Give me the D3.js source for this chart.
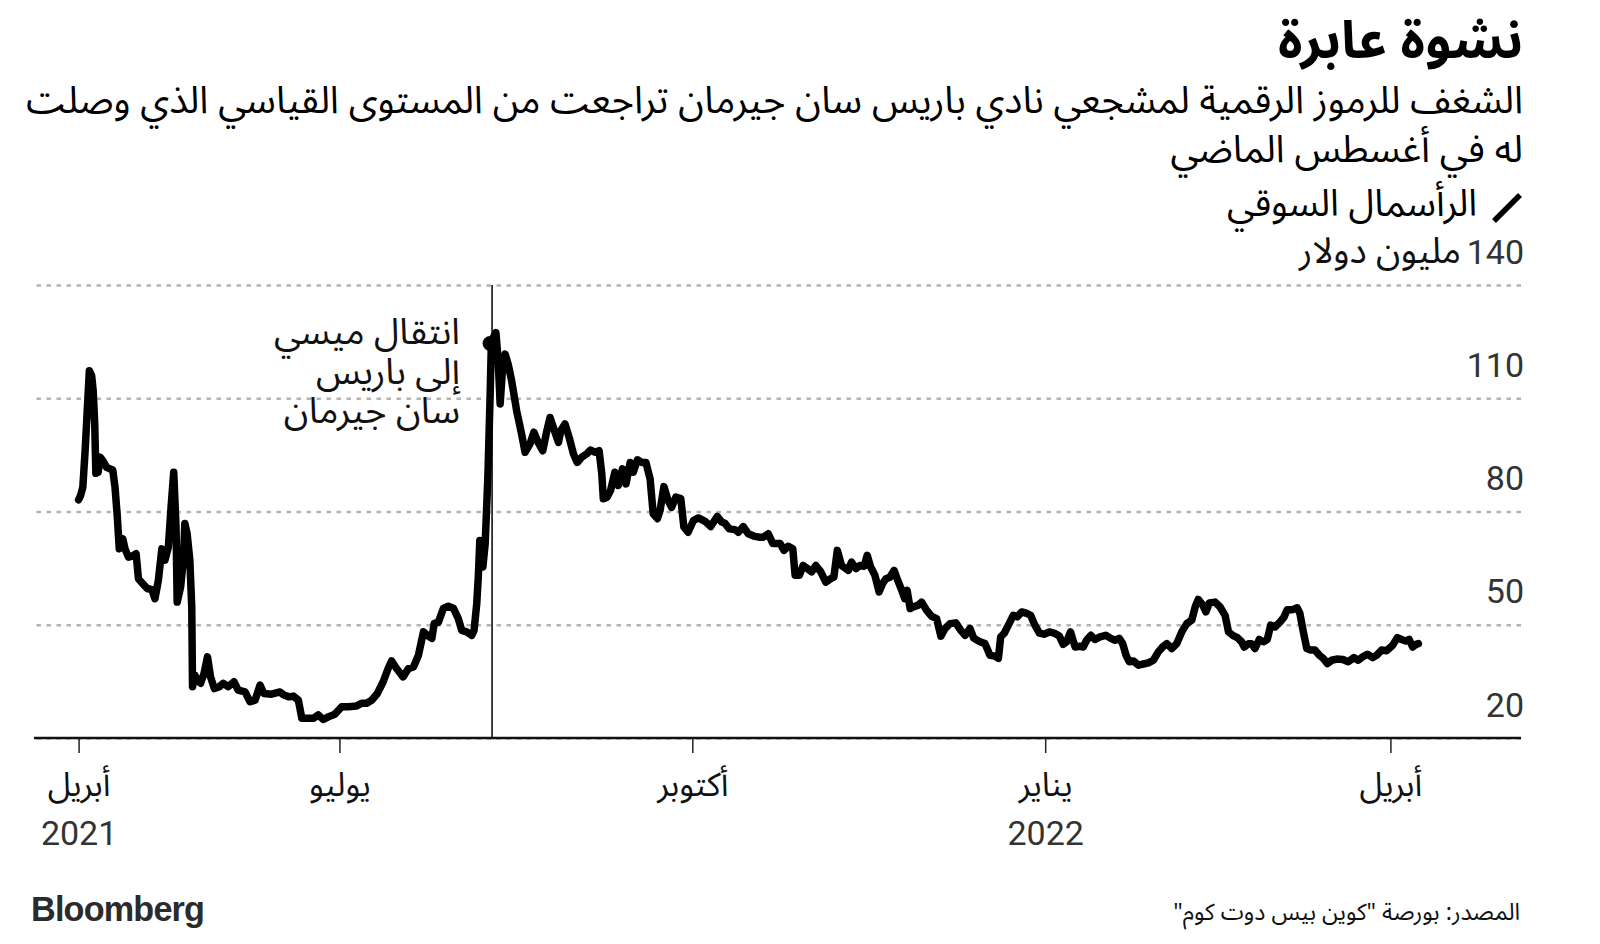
<!DOCTYPE html>
<html><head><meta charset="utf-8">
<script src="https://cdn.jsdelivr.net/npm/d3@7"></script>
<style>body{margin:0;background:#fff} svg{display:block}</style>
</head><body><svg id="c" width="1600" height="944"></svg>
<script>
// ---------- data ----------
const startDate = "2021-04-24";
const endTickDate = "2022-04-01";
// days after startDate
const dayOffsets = [0,0.5,1.1,1.7,2.3,2.8,3.4,3.8,4.2,4.5,5.1,5.6,6.3,7.3,8.9,9.5,10.1,10.6,11.5,12.1,13.0,13.8,15.0,15.6,16.7,17.9,19.1,19.9,20.8,21.7,22.5,23.4,24.1,24.8,25.4,25.7,26.6,27.3,27.7,28.3,29.0,29.5,29.7,30.3,30.9,31.8,32.7,33.6,34.4,35.4,36.7,37.7,39.0,40.5,41.6,43.4,44.7,46.0,47.3,48.3,50.3,52.5,53.5,54.9,56.0,57.3,58.2,59.5,
61.2,62.5,63.8,65.1,66.8,68.6,70.3,72.5,73.8,75.1,76.4,77.9,79.4,80.7,81.6,82.9,84.6,86.0,87.3,88.6,89.9,90.9,92.1,92.7,93.8,95.1,96.4,97.7,99.0,99.9,101.2,102.5,103.1,103.8,104.2,104.6,105.4,106.0,106.7,107.3,107.6,108.1,108.8,109.4,109.9,110.6,111.2,112.0,112.9,114.2,115.5,116.4,117.7,
118.7,119.8,121.0,122.0,122.9,124.2,125.1,125.7,126.8,127.9,129.0,130.0,131.2,132.5,133.5,134.6,135.7,136.4,136.8,137.8,138.7,139.8,140.7,141.8,142.7,143.8,144.6,145.7,146.8,147.9,149.0,149.8,150.9,151.6,152.6,153.7,154.6,155.7,157.0,157.8,158.9,160.3,161.6,163.3,164.8,166.5,167.7,168.5,169.6,171.1,172.0,173.3,174.6,176.3,177.6,
178.5,179.8,181.0,182.9,183.9,185.0,186.2,186.8,187.9,188.9,190.0,191.1,192.2,193.5,194.8,196.1,196.9,197.8,198.9,200.7,201.5,202.7,203.7,204.8,205.6,206.5,207.6,208.7,209.6,210.5,211.5,212.6,213.4,214.6,215.4,216.0,216.8,217.6,218.9,219.8,221.1,222.4,223.7,224.8,225.9,227.2,228.7,230.0,231.1,232.4,233.4,235.0,236.3,237.6,
238.9,239.8,240.4,241.3,242.6,243.7,244.7,245.9,247.2,248.2,249.3,250.5,251.7,253.1,254.3,255.7,256.7,257.6,258.6,259.8,261.1,261.9,262.8,263.9,265.0,266.3,267.8,269.1,270.2,271.3,272.2,273.1,273.9,275.0,276.3,277.6,278.9,280.2,281.5,282.6,283.7,285.0,286.3,287.6,288.9,290.2,291.1,291.9,293.1,293.9,294.8,296.3,297.6,
298.9,299.8,300.9,302.1,303.2,303.9,305.0,305.8,306.7,307.8,308.9,309.9,310.8,311.9,313.2,314.3,315.1,316.5,317.7,318.4,319.3,320.2,321.2,322.3,323.5,324.5,325.6,326.7,328.0,329.6,331.0,332.5,333.6,334.8,336.0,337.4,338.4,339.7,341.0,342.6,343.8,344.9,346.0,346.9,347.8,348.7,349.3];
// market cap, million USD
const marketCap = [83.1,84.2,86.4,96.1,107.6,117.3,116.0,112.0,103.3,90.1,90.4,94.4,93.5,91.7,91.0,86.4,78.5,70.1,72.8,70.1,67.9,68.1,68.8,62.2,60.9,59.6,59.3,56.9,61.8,70.1,67.1,70.6,81.1,90.4,75.9,56.0,60.0,67.1,76.8,74.1,67.1,54.7,33.6,36.7,35.3,34.5,37.1,41.5,36.2,33.1,33.6,34.5,33.6,34.9,32.7,32.2,29.6,30.0,34.0,31.8,31.6,32.2,31.4,30.9,31.1,30.0,25.2,25.2,
25.2,26.1,24.9,25.6,26.3,28.3,28.3,28.5,29.2,29.2,30.0,31.8,34.9,38.4,40.4,38.4,36.2,38.4,38.8,41.9,48.1,47.2,46.4,50.3,50.7,54.3,54.9,54.4,51.6,48.5,48.1,47.2,48.5,55.6,62.6,72.3,65.3,71.5,89.1,111.1,124.3,126.1,127.4,119.9,108.5,119.0,121.7,119.0,114.6,106.7,100.5,95.7,97.9,
101.0,98.3,96.1,101.0,104.9,101.0,98.3,101.4,103.2,99.6,95.3,93.0,94.4,95.3,96.3,95.7,96.1,90.0,83.4,83.8,85.6,90.4,86.9,91.3,87.3,93.0,90.4,93.7,93.0,93.0,88.6,79.4,78.1,80.3,86.6,82.9,81.1,83.8,83.4,75.9,74.5,77.6,78.3,77.4,76.0,78.7,77.2,76.9,75.4,75.2,74.5,76.0,74.1,73.4,73.2,
73.2,74.1,71.5,71.5,69.7,70.8,70.1,63.1,63.1,65.7,64.9,64.0,65.7,64.0,61.3,62.2,62.6,69.7,65.7,64.4,66.6,64.9,65.7,65.5,68.4,65.3,63.1,58.7,60.9,62.2,62.6,64.4,62.2,59.1,56.9,59.1,54.3,54.7,55.2,56.0,53.8,52.2,51.6,47.0,49.0,50.3,50.5,48.5,47.2,49.0,46.4,45.5,45.0,41.9,
41.7,41.1,46.8,47.7,50.3,52.5,52.1,53.4,53.0,52.5,49.9,47.8,47.5,48.1,47.8,47.0,44.8,45.5,48.1,44.1,44.3,44.1,45.9,47.2,46.1,46.8,47.2,46.4,45.9,46.4,45.0,41.9,40.2,40.4,39.3,39.6,39.9,40.6,42.8,44.1,45.0,43.7,45.0,48.1,50.3,51.2,54.7,56.7,55.2,53.4,55.8,56.0,54.7,
52.5,48.1,47.2,46.6,45.5,44.1,45.0,45.0,43.7,46.1,45.5,46.1,49.9,49.4,50.7,52.1,54.0,54.0,54.5,53.0,48.1,43.7,43.3,43.3,41.9,41.1,39.7,40.6,40.9,40.8,40.2,41.3,40.6,41.5,42.2,41.3,41.9,43.3,43.1,44.6,46.6,46.1,45.7,46.1,44.1,44.8,45.0];

const yTicks = [20, 50, 80, 110, 140];
const xTickDates = ["2021-04-24", "2021-07-01", "2021-10-01", "2022-01-01", "2022-04-01"];
const xTickMonths = ["أبريل", "يوليو", "أكتوبر", "يناير", "أبريل"];
const xTickYears = ["2021", "", "", "2022", ""];

const messiDay = 107.8;       // day offset of the transfer marker
const messiValue = 124.5;
const annotationLines = ["انتقال ميسي", "إلى باريس", "سان جيرمان"];

const titleText = "نشوة عابرة";
const subtitleLines = ["الشغف للرموز الرقمية لمشجعي نادي باريس سان جيرمان تراجعت من المستوى القياسي الذي وصلت", "له في أغسطس الماضي"];
const legendText = "الرأسمال السوقي";
const unitText = "مليون دولار";
const sourceText = "المصدر: بورصة \"كوين بيس دوت كوم\"";
const brandText = "Bloomberg";

// ---------- drawing ----------
const AR = "'Noto Sans Arabic','DejaVu Sans',sans-serif";
const NUM = "Roboto,'Open Sans',sans-serif";
const DAY = 864e5;
const t0 = Date.parse(startDate + "T00:00:00Z");

const svg = d3.select("#c");
svg.append("rect").attr("width", 1600).attr("height", 944).attr("fill", "#fff");

const x = d3.scaleUtc()
  .domain([new Date(t0), new Date(endTickDate + "T00:00:00Z")])
  .range([78.6, 1390.4]);
const y = d3.scaleLinear().domain([20, 140]).range([738, 285]);

const data = dayOffsets.map((d, i) => ({date: new Date(t0 + d * DAY), value: marketCap[i]}));

function fitWidth(sel, target) {
  const w = sel.node().getComputedTextLength();
  const fs = parseFloat(sel.attr("font-size"));
  if (w > 0) sel.attr("font-size", (fs * target / w).toFixed(2));
  return parseFloat(sel.attr("font-size"));
}

// gridlines + y labels
const gy = svg.append("g").attr("transform", "translate(1521,0)")
  .call(d3.axisLeft(y).tickValues(yTicks).tickSize(1521 - 34).tickFormat(d => d));
gy.select(".domain").remove();
gy.selectAll(".tick line").attr("stroke", "#b3b3b3").attr("stroke-width", 2.5).attr("stroke-dasharray", "4.5,5.5");
gy.selectAll(".tick text").attr("x", 3).attr("dy", -22).attr("text-anchor", "end")
  .attr("font-family", NUM).attr("font-size", 34).attr("fill", "#333");

// unit label next to top tick
const unit = svg.append("text").attr("x", 1461).attr("y", y(140) - 22)
  .attr("direction", "rtl").attr("text-anchor", "start")
  .attr("font-family", AR).attr("font-size", 30).attr("fill", "#111").text(unitText);
fitWidth(unit, 162);

// x axis
const gx = svg.append("g").attr("transform", "translate(0,738)")
  .call(d3.axisBottom(x).tickValues(xTickDates.map(s => new Date(s + "T00:00:00Z")))
    .tickSize(15).tickFormat((d, i) => xTickMonths[i]));
gx.select(".domain").remove();
gx.selectAll(".tick line").attr("stroke", "#222").attr("stroke-width", 1.5);
gx.selectAll(".tick text").attr("y", 58).attr("dy", 0).attr("direction", "rtl")
  .attr("font-family", AR).attr("font-size", 33).attr("fill", "#111");
gx.selectAll(".tick").append("text").text((d, i) => xTickYears[i])
  .attr("y", 107).attr("text-anchor", "middle").attr("font-family", NUM)
  .attr("font-size", 34).attr("fill", "#333");

// baseline
svg.append("line").attr("x1", 34).attr("x2", 1521).attr("y1", 738).attr("y2", 738)
  .attr("stroke", "#111").attr("stroke-width", 2.5);

// annotation vertical line
const mx = x(new Date(t0 + messiDay * DAY));
svg.append("line").attr("x1", mx).attr("x2", mx).attr("y1", y(140)).attr("y2", 738)
  .attr("stroke", "#111").attr("stroke-width", 1.6);

// series line
svg.append("path").datum(data)
  .attr("d", d3.line().x(d => x(d.date)).y(d => y(d.value)))
  .attr("fill", "none").attr("stroke", "#000").attr("stroke-width", 7.5)
  .attr("stroke-linejoin", "round").attr("stroke-linecap", "round");

svg.append("circle").attr("cx", mx - 2).attr("cy", y(messiValue)).attr("r", 7.5).attr("fill", "#000");

// annotation text
const annBase = [344, 384, 423];
const ann = svg.append("g");
const a0 = ann.append("text").attr("x", 460).attr("y", annBase[0]).attr("direction", "rtl")
  .attr("text-anchor", "start").attr("font-family", AR).attr("font-size", 30).attr("fill", "#111")
  .text(annotationLines[0]);
const annSize = fitWidth(a0, 186);
annotationLines.slice(1).forEach((t, i) => {
  ann.append("text").attr("x", 460).attr("y", annBase[i + 1]).attr("direction", "rtl")
    .attr("text-anchor", "start").attr("font-family", AR).attr("font-size", annSize).attr("fill", "#111").text(t);
});

// title
const title = svg.append("text").attr("x", 1523).attr("y", 58).attr("direction", "rtl")
  .attr("text-anchor", "start").attr("font-family", AR).attr("font-weight", "bold")
  .attr("font-size", 46).attr("fill", "#000").text(titleText);
fitWidth(title, 245);

// subtitle
const s1 = svg.append("text").attr("x", 1523).attr("y", 113).attr("direction", "rtl")
  .attr("text-anchor", "start").attr("font-family", AR).attr("font-size", 32).attr("fill", "#000")
  .text(subtitleLines[0]);
const subSize = fitWidth(s1, 1497);
svg.append("text").attr("x", 1523).attr("y", 162).attr("direction", "rtl")
  .attr("text-anchor", "start").attr("font-family", AR).attr("font-size", subSize).attr("fill", "#000")
  .text(subtitleLines[1]);

// legend
svg.append("line").attr("x1", 1494).attr("y1", 221).attr("x2", 1520).attr("y2", 195)
  .attr("stroke", "#000").attr("stroke-width", 5.5);
const lg = svg.append("text").attr("x", 1477).attr("y", 216).attr("direction", "rtl")
  .attr("text-anchor", "start").attr("font-family", AR).attr("font-size", 28).attr("fill", "#000")
  .text(legendText);
fitWidth(lg, 250);

// footer
const br = svg.append("text").attr("x", 31).attr("y", 921).attr("font-family", "'Liberation Sans',Arial,sans-serif")
  .attr("font-weight", "bold").attr("font-size", 33).attr("letter-spacing", -0.8).attr("fill", "#2b2b2b").text(brandText);
fitWidth(br, 173);
const src = svg.append("text").attr("x", 1520).attr("y", 920).attr("direction", "rtl")
  .attr("text-anchor", "start").attr("font-family", AR).attr("font-size", 20).attr("fill", "#111")
  .text(sourceText);
fitWidth(src, 347);
</script></body></html>
